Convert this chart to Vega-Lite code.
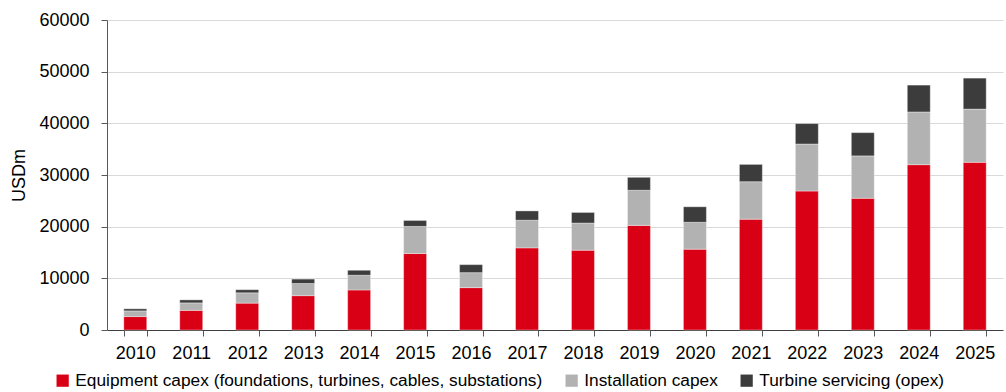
{
  "$schema": "https://vega.github.io/schema/vega-lite/v6.json",
  "width": 896,
  "height": 310,
  "autosize": {"type": "none"},
  "padding": {"left": 107, "top": 20, "right": 3, "bottom": 62},
  "config": {
    "view": {"stroke": null},
    "font": "Liberation Sans",
    "axis": {"labelFont": "Liberation Sans", "titleFont": "Liberation Sans", "labelColor": "#000", "titleColor": "#000"},
    "legend": {"labelFont": "Liberation Sans"}
  },
  "data": {
    "values": [
      {"year": "2010", "series": "Equipment capex (foundations, turbines, cables, substations)", "k": 1, "value": 2600},
      {"year": "2010", "series": "Installation capex", "k": 2, "value": 1100},
      {"year": "2010", "series": "Turbine servicing (opex)", "k": 3, "value": 400},
      {"year": "2011", "series": "Equipment capex (foundations, turbines, cables, substations)", "k": 1, "value": 3800},
      {"year": "2011", "series": "Installation capex", "k": 2, "value": 1450},
      {"year": "2011", "series": "Turbine servicing (opex)", "k": 3, "value": 580},
      {"year": "2012", "series": "Equipment capex (foundations, turbines, cables, substations)", "k": 1, "value": 5200},
      {"year": "2012", "series": "Installation capex", "k": 2, "value": 2000},
      {"year": "2012", "series": "Turbine servicing (opex)", "k": 3, "value": 600},
      {"year": "2013", "series": "Equipment capex (foundations, turbines, cables, substations)", "k": 1, "value": 6650},
      {"year": "2013", "series": "Installation capex", "k": 2, "value": 2350},
      {"year": "2013", "series": "Turbine servicing (opex)", "k": 3, "value": 850},
      {"year": "2014", "series": "Equipment capex (foundations, turbines, cables, substations)", "k": 1, "value": 7750},
      {"year": "2014", "series": "Installation capex", "k": 2, "value": 2850},
      {"year": "2014", "series": "Turbine servicing (opex)", "k": 3, "value": 950},
      {"year": "2015", "series": "Equipment capex (foundations, turbines, cables, substations)", "k": 1, "value": 14800},
      {"year": "2015", "series": "Installation capex", "k": 2, "value": 5250},
      {"year": "2015", "series": "Turbine servicing (opex)", "k": 3, "value": 1150},
      {"year": "2016", "series": "Equipment capex (foundations, turbines, cables, substations)", "k": 1, "value": 8200},
      {"year": "2016", "series": "Installation capex", "k": 2, "value": 2900},
      {"year": "2016", "series": "Turbine servicing (opex)", "k": 3, "value": 1550},
      {"year": "2017", "series": "Equipment capex (foundations, turbines, cables, substations)", "k": 1, "value": 15900},
      {"year": "2017", "series": "Installation capex", "k": 2, "value": 5350},
      {"year": "2017", "series": "Turbine servicing (opex)", "k": 3, "value": 1800},
      {"year": "2018", "series": "Equipment capex (foundations, turbines, cables, substations)", "k": 1, "value": 15450},
      {"year": "2018", "series": "Installation capex", "k": 2, "value": 5250},
      {"year": "2018", "series": "Turbine servicing (opex)", "k": 3, "value": 2050},
      {"year": "2019", "series": "Equipment capex (foundations, turbines, cables, substations)", "k": 1, "value": 20250},
      {"year": "2019", "series": "Installation capex", "k": 2, "value": 6800},
      {"year": "2019", "series": "Turbine servicing (opex)", "k": 3, "value": 2500},
      {"year": "2020", "series": "Equipment capex (foundations, turbines, cables, substations)", "k": 1, "value": 15650},
      {"year": "2020", "series": "Installation capex", "k": 2, "value": 5200},
      {"year": "2020", "series": "Turbine servicing (opex)", "k": 3, "value": 3000},
      {"year": "2021", "series": "Equipment capex (foundations, turbines, cables, substations)", "k": 1, "value": 21450},
      {"year": "2021", "series": "Installation capex", "k": 2, "value": 7250},
      {"year": "2021", "series": "Turbine servicing (opex)", "k": 3, "value": 3350},
      {"year": "2022", "series": "Equipment capex (foundations, turbines, cables, substations)", "k": 1, "value": 26900},
      {"year": "2022", "series": "Installation capex", "k": 2, "value": 9100},
      {"year": "2022", "series": "Turbine servicing (opex)", "k": 3, "value": 3950},
      {"year": "2023", "series": "Equipment capex (foundations, turbines, cables, substations)", "k": 1, "value": 25500},
      {"year": "2023", "series": "Installation capex", "k": 2, "value": 8200},
      {"year": "2023", "series": "Turbine servicing (opex)", "k": 3, "value": 4500},
      {"year": "2024", "series": "Equipment capex (foundations, turbines, cables, substations)", "k": 1, "value": 32000},
      {"year": "2024", "series": "Installation capex", "k": 2, "value": 10200},
      {"year": "2024", "series": "Turbine servicing (opex)", "k": 3, "value": 5200},
      {"year": "2025", "series": "Equipment capex (foundations, turbines, cables, substations)", "k": 1, "value": 32450},
      {"year": "2025", "series": "Installation capex", "k": 2, "value": 10300},
      {"year": "2025", "series": "Turbine servicing (opex)", "k": 3, "value": 6000}
    ]
  },
  "mark": {"type": "bar", "stroke": "#ffffff", "strokeWidth": 0.6, "strokeOpacity": 0.6},
  "encoding": {
    "x": {
      "field": "year", "type": "ordinal",
      "scale": {"paddingInner": 0.59, "paddingOuter": 0.3},
      "axis": {
        "title": null, "labelAngle": 0, "labelFontSize": 18, "labelPadding": 8,
        "tickBand": "extent", "tickColor": "#595959", "tickSize": 6,
        "domainColor": "#404040", "domainWidth": 1.2, "grid": false
      }
    },
    "y": {
      "field": "value", "type": "quantitative", "aggregate": "sum", "stack": "zero",
      "scale": {"domain": [0, 60000], "nice": false},
      "axis": {
        "title": "USDm", "titleFontSize": 18, "titleFontWeight": "normal", "titlePadding": 10,
        "values": [0, 10000, 20000, 30000, 40000, 50000, 60000],
        "format": "d", "labelFontSize": 18, "labelPadding": 12,
        "tickColor": "#595959", "tickSize": 6,
        "domainColor": "#595959", "domainWidth": 1,
        "gridColor": "#d9d9d9", "gridWidth": 1
      }
    },
    "color": {
      "field": "series", "type": "nominal",
      "scale": {
        "domain": ["Equipment capex (foundations, turbines, cables, substations)", "Installation capex", "Turbine servicing (opex)"],
        "range": ["#d90016", "#b2b2b2", "#3c3c3c"]
      },
      "legend": {
        "title": null, "orient": "none", "direction": "horizontal",
        "legendX": -53, "legendY": 352,
        "symbolType": "square", "symbolSize": 150, "symbolStrokeWidth": 0,
        "labelFontSize": 17.3, "labelColor": "#000", "labelOffset": 4,
        "columnPadding": 20, "labelLimit": 600
      }
    },
    "order": {"field": "k", "type": "quantitative"}
  }
}
